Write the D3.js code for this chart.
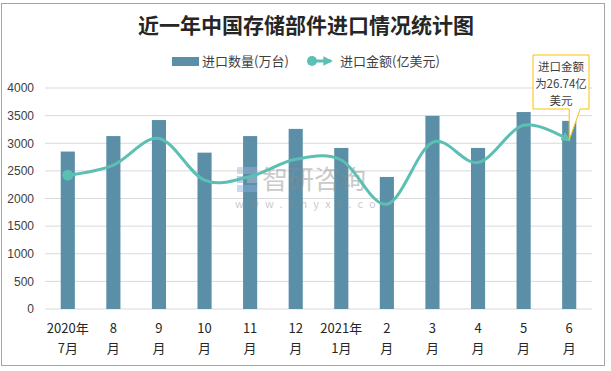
<!DOCTYPE html>
<html>
<head>
<meta charset="utf-8">
<script src="https://cdn.jsdelivr.net/npm/d3@7"></script>
<style>
  body { margin: 0; background: #fff; }
  text { font-family: "Noto Sans CJK SC", "Noto Sans", sans-serif; }
</style>
</head>
<body>
<svg id="chart" width="611" height="371"></svg>
<script>
const title = "近一年中国存储部件进口情况统计图";
const months = ["2020年|7月", "8|月", "9|月", "10|月", "11|月", "12|月", "2021年|1月", "2|月", "3|月", "4|月", "5|月", "6|月"];
const quantity = [2850, 3130, 3420, 2830, 3130, 3260, 2915, 2390, 3495, 2915, 3565, 3405];
const amount = [21.2, 22.8, 27.0, 20.4, 21.0, 23.7, 23.6, 16.6, 26.4, 23.2, 29.1, 26.74];
const yTicks = [0, 500, 1000, 1500, 2000, 2500, 3000, 3500, 4000];

const barColor = "#5b8fa7";
const lineColor = "#5cbfb4";

const svg = d3.select("#chart");
const margin = { left: 45, right: 19, top: 88, bottom: 62 };
const width = 611 - margin.left - margin.right;
const height = 371 - margin.top - margin.bottom;

// outer frame
svg.append("rect")
  .attr("x", 1.5).attr("y", 3.5)
  .attr("width", 603).attr("height", 362)
  .attr("fill", "#fff").attr("stroke", "#a6a6a6");

svg.append("text")
  .attr("x", 306).attr("y", 33)
  .attr("text-anchor", "middle")
  .attr("font-size", 21).attr("font-weight", "bold")
  .attr("fill", "#262626")
  .text(title);

const x = d3.scaleBand().domain(months).range([0, width]).paddingInner(0.69).paddingOuter(0.345);
const y = d3.scaleLinear().domain([0, 4000]).range([height, 0]);
const y2 = d3.scaleLinear().domain([0, 35]).range([height, 0]);

const g = svg.append("g").attr("transform", `translate(${margin.left},${margin.top})`);

// grid
g.append("g")
  .selectAll("line")
  .data(yTicks)
  .enter()
  .append("line")
  .attr("x1", 0).attr("x2", width)
  .attr("y1", d => y(d)).attr("y2", d => y(d))
  .attr("stroke", "#d9d9d9");

// y axis labels
const yAxis = g.append("g")
  .call(d3.axisLeft(y).tickValues(yTicks).tickFormat(d3.format("d")).tickSize(0).tickPadding(11));
yAxis.select(".domain").remove();
yAxis.selectAll("text").attr("font-size", 12).attr("fill", "#404040")
  .style("font-family", "'Liberation Sans', 'Noto Sans CJK SC', sans-serif");

// bars
g.selectAll(".bar")
  .data(quantity)
  .enter()
  .append("rect")
  .attr("x", (d, i) => x(months[i]))
  .attr("y", d => y(d))
  .attr("width", x.bandwidth())
  .attr("height", d => height - y(d))
  .attr("fill", barColor);

// x labels
const xl = g.append("g").attr("transform", `translate(0,${height})`);
months.forEach(m => {
  const parts = m.split("|");
  const t = xl.append("text")
    .attr("x", x(m) + x.bandwidth() / 2)
    .attr("text-anchor", "middle")
    .attr("font-size", 13)
    .attr("fill", "#262626");
  parts.forEach((p, k) => {
    t.append("tspan").attr("x", x(m) + x.bandwidth() / 2).attr("y", 24 + k * 20).text(p);
  });
});

// watermark
const wm = g.append("g").attr("opacity", 0.45).attr("transform", "translate(190,78)");
wm.append("rect").attr("x", 2).attr("y", 1).attr("width", 20).attr("height", 7).attr("fill", "#9fb6d6");
wm.append("rect").attr("x", 2).attr("y", 10).attr("width", 7).attr("height", 7).attr("fill", "#6fa0d8");
wm.append("rect").attr("x", 12).attr("y", 10).attr("width", 10).attr("height", 7).attr("fill", "#b8c4d4");
wm.append("rect").attr("x", 2).attr("y", 19).attr("width", 20).attr("height", 7).attr("fill", "#8cb0dd");
wm.append("text").attr("x", 27).attr("y", 23).attr("font-size", 26).attr("fill", "#8c8c8c").text("智研咨询");
wm.append("text").attr("x", 0).attr("y", 42).attr("font-size", 11).attr("fill", "#8c8c8c")
  .attr("letter-spacing", 6.2).text("www.chyxx.com");

// line
const defs = svg.append("defs");
defs.append("marker")
  .attr("id", "arrow")
  .attr("viewBox", "0 0 10 10")
  .attr("refX", 8).attr("refY", 5)
  .attr("markerWidth", 3.2).attr("markerHeight", 3.2)
  .attr("orient", "auto")
  .append("path")
  .attr("d", "M0,0 L10,5 L0,10 z")
  .attr("fill", lineColor);

const line = d3.line()
  .x((d, i) => x(months[i]) + x.bandwidth() / 2)
  .y(d => y2(d))
  .curve(d3.curveCardinal.tension(0));

g.append("path")
  .datum(amount)
  .attr("d", line)
  .attr("fill", "none")
  .attr("stroke", lineColor)
  .attr("stroke-width", 3)
  .attr("marker-end", "url(#arrow)");

g.append("circle")
  .attr("cx", x(months[0]) + x.bandwidth() / 2)
  .attr("cy", y2(amount[0]))
  .attr("r", 5.5)
  .attr("fill", lineColor);

// callout
const last = amount.length - 1;
const tipX = margin.left + x(months[last]) + x.bandwidth() / 2;
const tipY = margin.top + y2(amount[last]);
const box = { x: 533, y: 55, w: 56, h: 54 };
svg.append("path")
  .attr("d", `M${box.x},${box.y} H${box.x + box.w} V${box.y + box.h} H${tipX + 11} L${tipX},${tipY} L${tipX},${box.y + box.h} H${box.x} Z`)
  .attr("fill", "#fff")
  .attr("stroke", "#ffc000")
  .attr("stroke-width", 1);
const ct = svg.append("text")
  .attr("text-anchor", "middle")
  .attr("font-size", 11.5)
  .attr("fill", "#404040");
["进口金额", "为" + amount[last] + "亿", "美元"].forEach((s, k) => {
  ct.append("tspan").attr("x", box.x + box.w / 2).attr("y", box.y + 16 + k * 17).text(s);
});

// legend
const lg = svg.append("g").attr("transform", "translate(0,61)");
lg.append("rect").attr("x", 172).attr("y", -4).attr("width", 27).attr("height", 9).attr("fill", barColor);
lg.append("text").attr("x", 202).attr("y", 5).attr("font-size", 13).attr("fill", "#404040").text("进口数量(万台)");
lg.append("line").attr("x1", 311).attr("x2", 331).attr("y1", 0).attr("y2", 0)
  .attr("stroke", lineColor).attr("stroke-width", 3).attr("marker-end", "url(#arrow)");
lg.append("circle").attr("cx", 312).attr("cy", 0).attr("r", 5).attr("fill", lineColor);
lg.append("text").attr("x", 340).attr("y", 5).attr("font-size", 13).attr("fill", "#404040").text("进口金额(亿美元)");
</script>
</body>
</html>
